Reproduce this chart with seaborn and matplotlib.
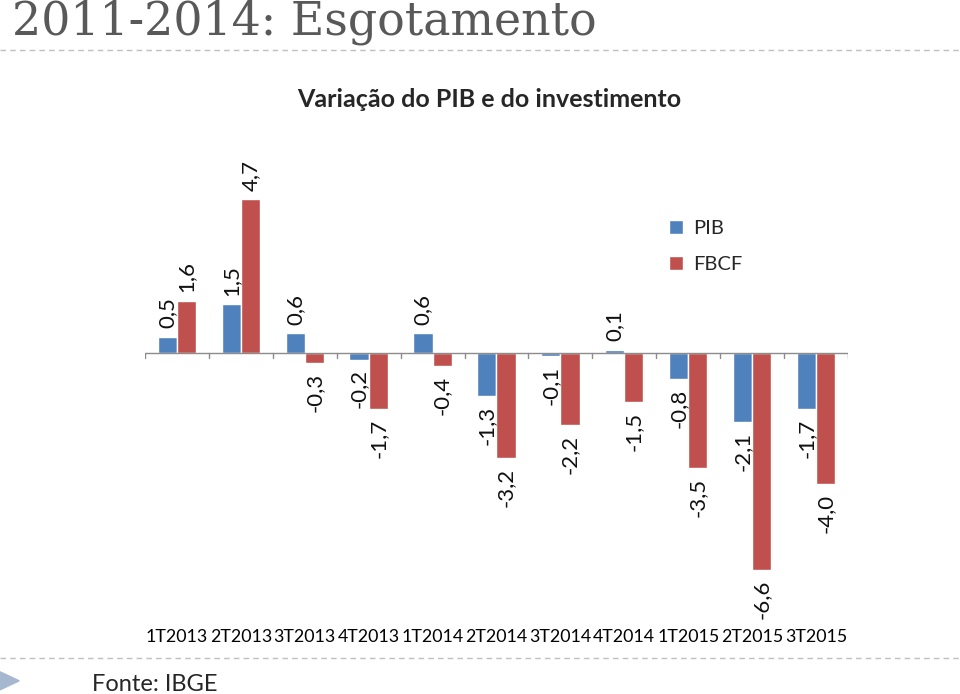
import pandas as pd
import matplotlib
matplotlib.use("Agg")
import matplotlib.pyplot as plt
import seaborn as sns
from matplotlib.lines import Line2D
from matplotlib.patches import Polygon

trimestres = ["1T2013", "2T2013", "3T2013", "4T2013", "1T2014", "2T2014",
              "3T2014", "4T2014", "1T2015", "2T2015", "3T2015"]
pib = [0.5, 1.5, 0.6, -0.2, 0.6, -1.3, -0.1, 0.1, -0.8, -2.1, -1.7]
fbcf = [1.6, 4.7, -0.3, -1.7, -0.4, -3.2, -2.2, -1.5, -3.5, -6.6, -4.0]
series = ["PIB", "FBCF"]
cores = {"PIB": "#4F81BD", "FBCF": "#C0504D"}

df = pd.DataFrame({
    "trimestre": trimestres * 2,
    "valor": pib + fbcf,
    "serie": ["PIB"] * len(pib) + ["FBCF"] * len(fbcf),
})

sns.set_theme(style="white")
plt.rcParams["font.family"] = ["Lato", "DejaVu Sans"]

fig = plt.figure(figsize=(9.6, 6.94), dpi=100)
ax = fig.add_axes([0.1510, 0.1037, 0.7323, 0.6801])

sns.barplot(data=df, x="trimestre", y="valor", hue="serie", hue_order=series,
            palette=cores, saturation=1, width=0.6, gap=0, ax=ax, errorbar=None)

# rótulos de dados na vertical
for cont in ax.containers:
    for bar in cont:
        h = bar.get_height()
        x = bar.get_x() + bar.get_width() / 2
        txt = f"{h:.1f}".replace(".", ",")
        if h >= 0:
            ax.annotate(txt, (x, h), xytext=(0, 6), textcoords="offset points",
                        rotation=90, ha="center", va="bottom", fontsize=16, color="#111111")
        else:
            ax.annotate(txt, (x, h), xytext=(0, -7), textcoords="offset points",
                        rotation=90, ha="center", va="top", fontsize=16, color="#111111")

ax.set_xlim(-0.5, len(trimestres) - 0.5)
ax.set_ylim(-8.2, 6.19)
ax.axhline(0, color="#8c8c8c", lw=1)
for i in range(len(trimestres) + 1):
    ax.plot([i - 0.5, i - 0.5], [0, -0.15], color="#8c8c8c", lw=1)

sns.despine(ax=ax, left=True, bottom=True)
ax.set_yticks([])
ax.set_xlabel("")
ax.set_ylabel("")
ax.tick_params(axis="x", length=0, pad=5, labelsize=12.8, labelcolor="black")

leg = ax.legend(loc="upper left", bbox_to_anchor=(0.72, 0.89), frameon=False,
                fontsize=14.5, handlelength=0.7, handleheight=0.7, labelspacing=0.95,
                handletextpad=0.5)

# título e elementos do slide
fig.text(0.012, 0.950, "2011-2014: Esgotamento", family="DejaVu Serif",
         fontsize=33, color="#595959", va="baseline")
fig.text(0.51, 0.857, "Variação do PIB e do investimento", fontsize=18,
         fontweight="bold", ha="center", va="center")
fig.text(0.096, 0.005, "Fonte: IBGE", fontsize=17, va="baseline")

fig.add_artist(Line2D([0, 1], [0.928, 0.928], transform=fig.transFigure,
                      color="#bfbfbf", lw=1, ls=(0, (4, 3))))
fig.add_artist(Line2D([0, 1], [0.052, 0.052], transform=fig.transFigure,
                      color="#bfbfbf", lw=1, ls=(0, (4, 3))))
fig.add_artist(Polygon([[0.0, 0.032], [0.0, 0.006], [0.02, 0.019]],
                       closed=True, transform=fig.transFigure, color="#a5b8cf"))

fig.savefig("out.png", dpi=100)
